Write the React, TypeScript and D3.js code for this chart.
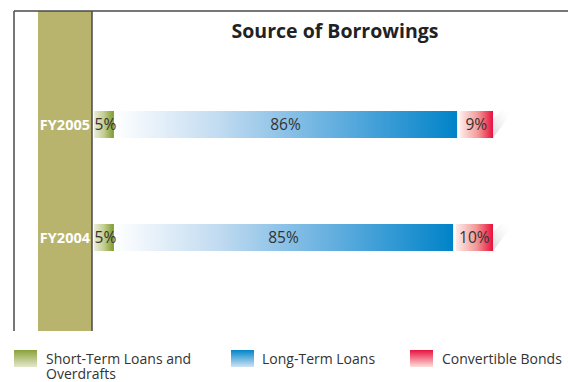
import React from "react";
import * as d3 from "d3";

const categories = ["FY2005", "FY2004"];
const shortTerm = [5, 5];
const longTerm = [86, 85];
const convertible = [9, 10];
const seriesNames = ["Short-Term Loans and Overdrafts", "Long-Term Loans", "Convertible Bonds"];
const legendLines0 = ["Short-Term Loans and", "Overdrafts"];
const title = "Source of Borrowings";

const W = 568;
const H = 382;
const FONT = "'Open Sans', 'Noto Sans', sans-serif";

export default function App() {
  const x = d3.scaleLinear().domain([0, 100]).range([94, 493]);
  const y = d3.scalePoint<string>().domain(categories).range([124.5, 237.5]);
  const barH = 27;

  const grads = [
    { id: "gGreen", stops: [["0", "#eceedb"], ["0.5", "#c3cc8f"], ["1", "#7e9a2c"]] },
    { id: "gBlue", stops: [["0", "#ffffff"], ["0.3", "#c3dcf1"], ["0.65", "#62aedf"], ["1", "#0083c8"]] },
    { id: "gRed", stops: [["0", "#fdeeec"], ["0.55", "#f29a98"], ["1", "#e8113d"]] },
  ];
  const legendGrads = [
    { id: "lGreen", top: "#8aa23a", bottom: "#e4e8cc" },
    { id: "lBlue", top: "#0085c9", bottom: "#cfe3f4" },
    { id: "lRed", top: "#e8133e", bottom: "#fde0dc" },
  ];

  return (
    <svg width={W} height={H} style={{ position: "fixed", left: 0, top: 0, background: "#fff" }} fontFamily={FONT}>
      <defs>
        {grads.map((g) => (
          <linearGradient key={g.id} id={g.id} x1="0" y1="0" x2="1" y2="0">
            {g.stops.map(([o, c]) => (
              <stop key={o} offset={o} stopColor={c} />
            ))}
          </linearGradient>
        ))}
        {legendGrads.map((g) => (
          <linearGradient key={g.id} id={g.id} x1="0" y1="0" x2="0" y2="1">
            <stop offset="0" stopColor={g.top} />
            <stop offset="1" stopColor={g.bottom} />
          </linearGradient>
        ))}
        <linearGradient id="gShadow" x1="0" y1="1" x2="1" y2="0">
          <stop offset="0" stopColor="#d6d6d6" />
          <stop offset="1" stopColor="#ffffff" stopOpacity="0" />
        </linearGradient>
      </defs>

      {/* frame */}
      <rect x={38} y={11} width={54} height={320} fill="#b8b46d" />
      <line x1={14} y1={11} x2={W} y2={11} stroke="#4a4a4a" strokeWidth={1.5} />
      <line x1={14} y1={11} x2={14} y2={331} stroke="#4a4a4a" strokeWidth={1.5} />
      <line x1={92} y1={11} x2={92} y2={331} stroke="#4a4a4a" strokeWidth={1.5} />

      <text x={335} y={38} textAnchor="middle" fontSize={19.5} fontWeight="bold" fill="#222">
        {title}
      </text>

      {categories.map((c, i) => {
        const cy = y(c)!;
        const top = cy - barH / 2;
        const s0 = 0;
        const s1 = shortTerm[i];
        const s2 = s1 + longTerm[i];
        const s3 = s2 + convertible[i];
        const redStart = x(s2) + 2.5;
        return (
          <g key={c}>
            <polygon
              points={`${x(s3)},${top + barH} ${x(s3)},${top + 8} ${x(s3) + 8},${top} ${x(s3) + 20},${top}`}
              fill="url(#gShadow)"
            />
            <rect x={x(s0)} y={top} width={x(s1) - x(s0)} height={barH} fill="url(#gGreen)" />
            <rect x={x(s1)} y={top} width={x(s2) - x(s1)} height={barH} fill="url(#gBlue)" />
            <rect x={redStart} y={top} width={x(s3) - redStart} height={barH} fill="url(#gRed)" />
            <text x={90} y={cy + 5} textAnchor="end" fontSize={14.5} fontWeight="bold" fill="#fff">
              {c}
            </text>
            <text x={x(s0) + 0.5} y={cy + 5} fontSize={15.5} fill="#333">
              {shortTerm[i]}%
            </text>
            <text x={(x(s1) + x(s2)) / 2} y={cy + 5} textAnchor="middle" fontSize={15.5} fill="#333">
              {longTerm[i]}%
            </text>
            <text x={(redStart + x(s3)) / 2} y={cy + 5} textAnchor="middle" fontSize={15.5} fill="#333">
              {convertible[i]}%
            </text>
          </g>
        );
      })}

      {/* legend */}
      <rect x={14} y={350} width={23} height={17} fill="url(#lGreen)" />
      <text x={46} y={364} fontSize={14} fill="#333">{legendLines0[0]}</text>
      <text x={46} y={379} fontSize={14} fill="#333">{legendLines0[1]}</text>
      <rect x={231} y={350} width={23} height={17} fill="url(#lBlue)" />
      <text x={262} y={364} fontSize={14} fill="#333">{seriesNames[1]}</text>
      <rect x={410} y={350} width={23} height={17} fill="url(#lRed)" />
      <text x={442} y={364} fontSize={14} fill="#333">{seriesNames[2]}</text>
    </svg>
  );
}
